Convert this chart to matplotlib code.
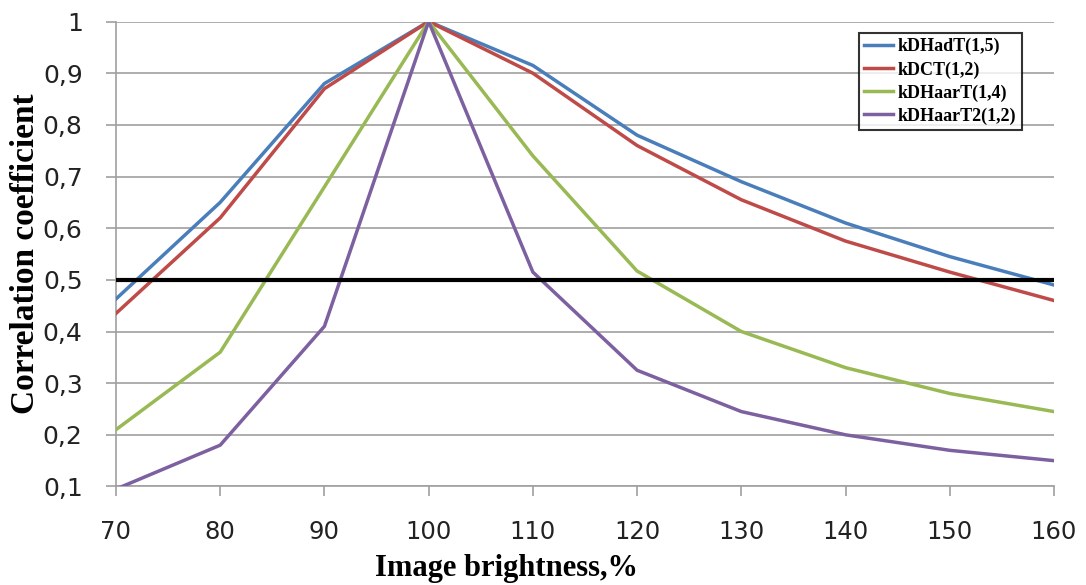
import matplotlib
matplotlib.use("Agg")
from matplotlib import pyplot as plt
from matplotlib.ticker import FuncFormatter

brightness = [70, 80, 90, 100, 110, 120, 130, 140, 150, 160]

kdhadt = [0.463, 0.65, 0.88, 1.0, 0.915, 0.78, 0.69, 0.61, 0.545, 0.49]
kdct = [0.435, 0.62, 0.87, 1.0, 0.90, 0.76, 0.655, 0.575, 0.515, 0.46]
kdhaart = [0.21, 0.36, 0.68, 1.0, 0.74, 0.517, 0.40, 0.33, 0.28, 0.245]
kdhaart2 = [0.095, 0.18, 0.41, 1.0, 0.515, 0.325, 0.245, 0.20, 0.17, 0.15]

labels = ["kDHadT(1,5)", "kDCT(1,2)", "kDHaarT(1,4)", "kDHaarT2(1,2)"]
colors = ["#4A7EBB", "#BE4B48", "#98B954", "#7D60A0"]
threshold = 0.5

fig = plt.figure(figsize=(10.86, 5.85), dpi=100)
ax = fig.add_axes([0.1068, 0.1684, 0.8637, 0.7948])

# horizontal grid, excel look
ax.set_axisbelow(True)
ax.yaxis.grid(True, color="#A0A0A0", linewidth=1.2)

for vals, lab, col in zip([kdhadt, kdct, kdhaart, kdhaart2], labels, colors):
    ax.plot(brightness, vals, color=col, linewidth=2.5, label=lab, zorder=3)

# 0.5 level
ax.plot([brightness[0], brightness[-1]], [threshold, threshold],
        color="black", linewidth=3, zorder=4)

ax.set_xlim(70, 160)
ax.set_ylim(0.1, 1.0)
ax.set_xticks(brightness)
ax.set_yticks([0.1, 0.2, 0.3, 0.4, 0.5, 0.6, 0.7, 0.8, 0.9, 1.0])
ax.yaxis.set_major_formatter(FuncFormatter(
    lambda v, p: "1" if abs(v - 1) < 1e-9 else ("%.1f" % v).replace(".", ",")))

for s in ["top", "right"]:
    ax.spines[s].set_visible(False)
for s in ["left", "bottom"]:
    ax.spines[s].set_color("#A0A0A0")
    ax.spines[s].set_linewidth(1.2)
ax.tick_params(axis="both", direction="out", length=7, width=1.2,
               color="#A0A0A0")
ax.tick_params(axis="y", pad=17)
ax.tick_params(axis="x", pad=17)
for t in ax.get_yticklabels():
    t.set_fontfamily("DejaVu Sans")
    t.set_fontsize(18)
    t.set_color("#222222")
for t in ax.get_xticklabels():
    t.set_fontfamily("DejaVu Sans")
    t.set_fontsize(17.5)
    t.set_color("#222222")

ax.set_xlabel("Image brightness,%", fontfamily="Liberation Serif",
              fontweight="bold", fontsize=22, labelpad=9)
ax.xaxis.set_label_coords(0.416, -0.145)
ax.set_ylabel("Correlation coefficient", fontfamily="Liberation Serif",
              fontweight="bold", fontsize=24, labelpad=1)

leg = ax.legend(loc="upper left", bbox_to_anchor=(0.792, 0.976),
                prop={"family": "Liberation Serif", "weight": "bold", "size": 13},
                frameon=True, fancybox=False, edgecolor="black",
                handlelength=1.6, handletextpad=0.25, borderpad=0.3,
                labelspacing=0.32, borderaxespad=0)
leg.get_frame().set_linewidth(1.5)
leg.set_zorder(5)

fig.savefig("out.png", dpi=100)
